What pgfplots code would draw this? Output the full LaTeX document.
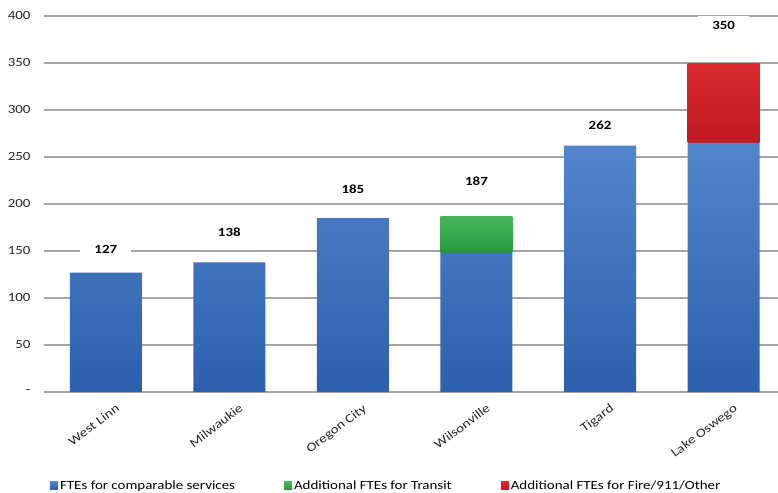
\documentclass[border=0pt]{standalone}
\usepackage{fontspec}
\setmainfont[FakeStretch=1.2]{Carlito}
\usepackage{pgfplots}
\pgfplotsset{compat=1.18}
\definecolor{fteTop}{HTML}{5285CB}
\definecolor{fteBot}{HTML}{2D60AC}
\definecolor{trTop}{HTML}{48B85A}
\definecolor{trBot}{HTML}{25963C}
\definecolor{fiTop}{HTML}{DA2A2E}
\definecolor{fiBot}{HTML}{C11A22}
\definecolor{gridc}{HTML}{A6A6A6}

\begin{document}
\begin{tikzpicture}
\begin{axis}[
    at={(0,0)}, anchor=south west,
    scale only axis,
    width=734bp, height=376bp,
    ybar stacked,
    bar width=72bp,
    xmin=-0.5, xmax=5.44,
    ymin=0, ymax=400,
    xtick={0,1,2,3,4,5},
    xticklabels={West Linn, Milwaukie, Oregon City, Wilsonville, Tigard, Lake Oswego},
    ytick={0,50,100,150,200,250,300,350,400},
    yticklabels={-,50,100,150,200,250,300,350,400},
    ymajorgrids,
    grid style={draw=gridc, line width=1.3bp},
    axis line style={draw=none},
    major tick length=0pt,
    tick label style={font=\fontsize{12.5}{14}\selectfont, text=black!85},
    yticklabel style={xshift=-10bp},
    xticklabel style={rotate=37, anchor=north east, xshift=4bp, yshift=-11bp},
    clip=false,
    legend columns=3,
    legend style={
        at={(0.004,-0.224)}, anchor=north west,
        draw=none, fill=none,
        font=\fontsize{12.5}{14}\selectfont,
        /tikz/every even column/.append style={column sep=47bp},
    },
    legend image code/.code={
        \path[#1, draw=none] (0bp,-4bp) rectangle (8bp,4bp);
    },
]

% base FTEs
\addplot[draw=none, top color=fteTop, bottom color=fteBot] coordinates {
    (0,127) (1,138) (2,185) (3,148) (4,262) (5,265)
};
\addlegendentry{FTEs for comparable services}

% transit
\addplot[draw=none, top color=trTop, bottom color=trBot] coordinates {
    (0,0) (1,0) (2,0) (3,39) (4,0) (5,0)
};
\addlegendentry{Additional FTEs for Transit}

% fire / 911 / other
\addplot[draw=none, top color=fiTop, bottom color=fiBot] coordinates {
    (0,0) (1,0) (2,0) (3,0) (4,0) (5,85)
};
\addlegendentry{Additional FTEs for Fire/911/Other}

% totals
\tikzset{tot/.style={fill=white, inner xsep=14bp, inner ysep=5bp,
    font=\bfseries\fontsize{12.5}{14}\selectfont}}
\node[tot] at (axis cs:0,152) {127};
\node[tot] at (axis cs:1,170) {138};
\node[tot] at (axis cs:2,216) {185};
\node[tot] at (axis cs:3,224) {187};
\node[tot] at (axis cs:4,284) {262};
\node[tot] at (axis cs:5,390) {350};

\end{axis}
\pgfresetboundingbox
\path[use as bounding box] (-44bp,-101bp) rectangle (734bp,392bp);
\end{tikzpicture}
\end{document}
